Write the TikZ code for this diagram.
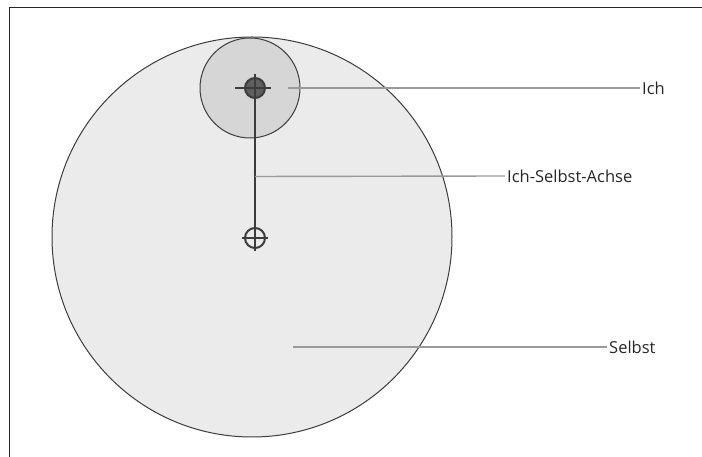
\documentclass[tikz,border=0pt]{standalone}
\usepackage{fontspec}
\setmainfont{Open Sans}
\usepackage{xcolor}
\usetikzlibrary{positioning, calc}
\definecolor{SelbstGray}{HTML}{EBEBEB}
\definecolor{IchGray}{HTML}{D6D6D6}
\definecolor{RimGray}{HTML}{3C3C3C}
\definecolor{LeaderGray}{HTML}{9A9A9A}
\definecolor{DotGray}{HTML}{5E5E5E}

\begin{document}
\begin{tikzpicture}[
    x=1pt, y=1pt,
    selbst/.style={circle, draw=RimGray, fill=SelbstGray, line width=1pt, minimum size=400pt, inner sep=0pt},
    ich/.style={circle, draw=RimGray, fill=IchGray, line width=1pt, minimum size=100pt, inner sep=0pt},
    target/.style={circle, draw=RimGray, line width=2pt, minimum size=20pt, inner sep=0pt},
    leader/.style={LeaderGray, line width=1.4pt},
    tag/.style={anchor=west, inner sep=2pt, font=\fontsize{16.5}{19}\selectfont, text=black!85}
]
\useasboundingbox (0,0) rectangle (702,457);
% frame
\draw[black!85, line width=0.8pt] (9,0) -- (9,450) -- (702,450);

% circles
\node[selbst] (selbst) at (252,220) {};
\node[ich] (ich) at (250,369) {};

% centres
\node[target, fill=DotGray] (ichpt) at (255,369) {};
\node[target] (selbstpt) at (255,219) {};
\draw[RimGray, line width=1.2pt] ([xshift=-20pt]ichpt.center) -- ([xshift=16pt]ichpt.center);
\draw[RimGray, line width=1.2pt] ([yshift=14pt]ichpt.center) -- (ichpt.center);
\draw[RimGray, line width=1.4pt] ([xshift=-13pt]selbstpt.center) -- ([xshift=13pt]selbstpt.center);
\draw[RimGray, line width=1.4pt] (selbstpt.center) -- ([yshift=-13pt]selbstpt.center);
\draw[RimGray, line width=2.4pt] (ichpt.center) -- (selbstpt.center) coordinate[pos=0.59] (achse);

% labels
\node[tag] (ichlbl) at (640,369) {Ich};
\node[tag] (achselbl) at (505,281) {Ich-Selbst-Achse};
\node[tag] (selbstlbl) at (607,110) {Selbst};

% leaders
\coordinate (ichfrom) at (288,369);
\coordinate (selbstfrom) at (293,110);
\draw[leader] (ichfrom) -- (ichlbl.west);
\draw[leader] (achse) -- (achselbl.west);
\draw[leader] (selbstfrom) -- (selbstlbl.west);
\end{tikzpicture}
\end{document}
